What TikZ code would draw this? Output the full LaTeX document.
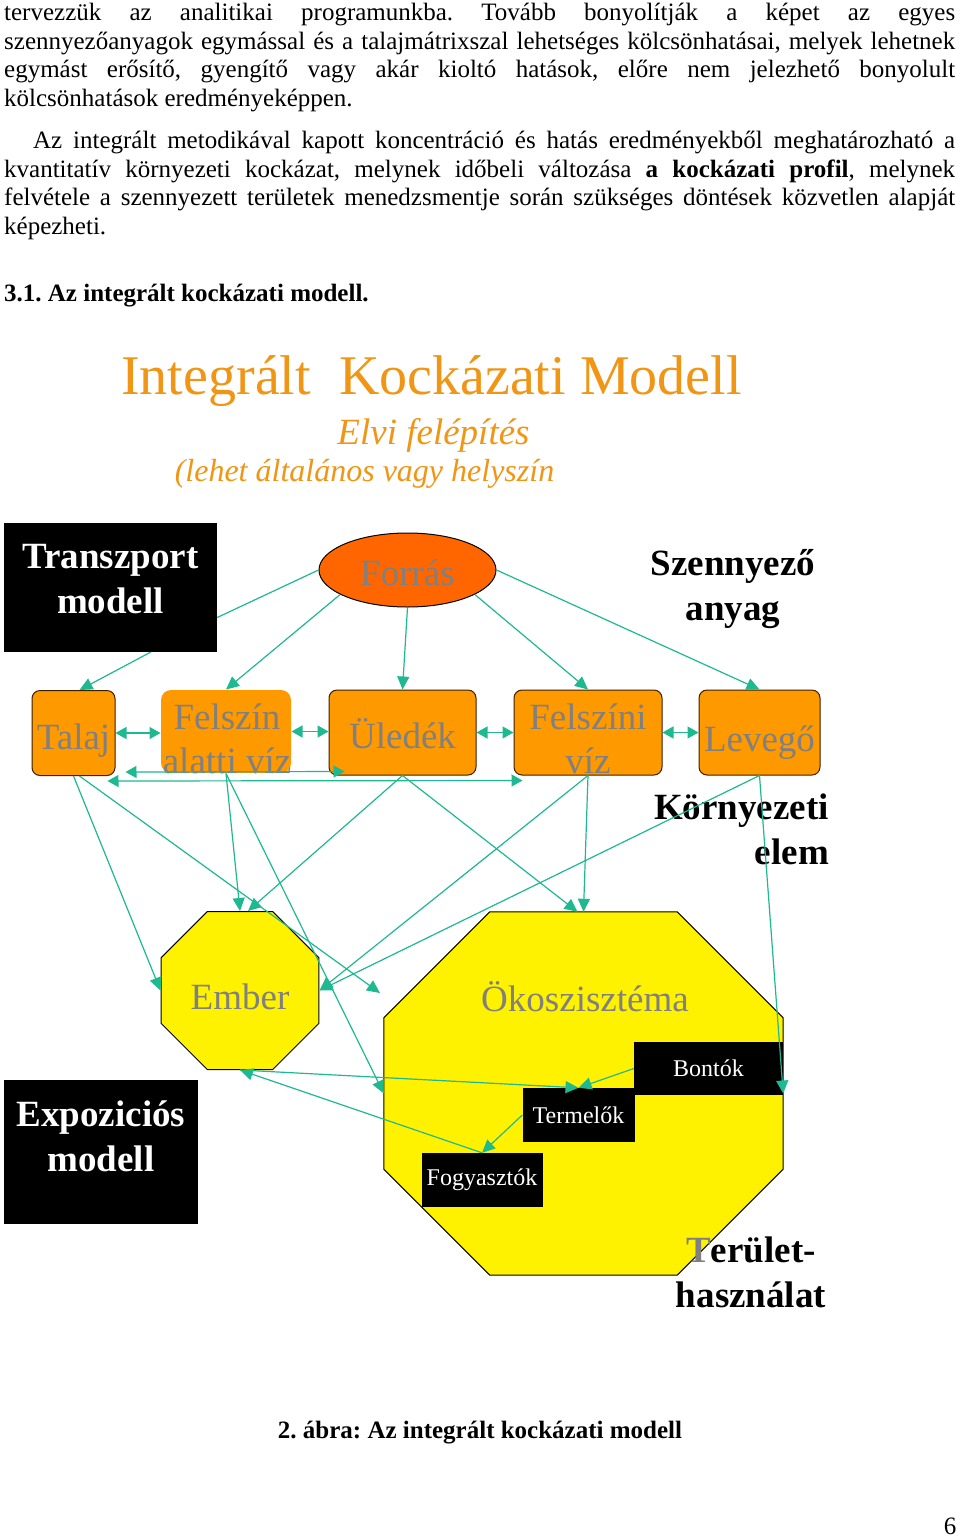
\documentclass[tikz,border=0pt]{standalone}
\usepackage{fontspec}
\setmainfont{Liberation Serif}
\usetikzlibrary{arrows.meta,shapes.geometric}
\frenchspacing
\definecolor{cimnarancs}{RGB}{240,150,20}
\definecolor{doboznarancs}{RGB}{255,153,0}
\definecolor{forrasnarancs}{RGB}{255,102,0}
\definecolor{nyilzold}{RGB}{30,185,145}
\definecolor{szurke}{RGB}{128,128,128}
\definecolor{keret}{RGB}{60,30,0}
\tikzset{
  nyil/.style={draw=nyilzold, line width=1.2pt, -{Triangle[length=13pt,width=12pt]}},
  ketnyil/.style={draw=nyilzold, line width=1.2pt, {Triangle[length=11pt,width=12pt]}-{Triangle[length=11pt,width=12pt]}},
  vonal/.style={draw=nyilzold, line width=1.2pt},
  elemdoboz/.style={rectangle, rounded corners=8pt, fill=doboznarancs, draw=keret, line width=1pt, text=szurke, font=\fontsize{37}{44}\selectfont, inner sep=0pt, text height=32pt, text depth=0pt, align=center},
  feketedoboz/.style={rectangle, fill=black, inner sep=0pt},
  feherszoveg/.style={text=white, font=\fontsize{37}{45}\selectfont\bfseries, align=center},
  kisfekete/.style={rectangle, fill=black, text=white, inner sep=0pt, font=\fontsize{24}{28}\selectfont},
  felirat/.style={font=\fontsize{37}{45}\selectfont\bfseries, align=center, inner sep=0pt},
  szurkefelirat/.style={text=szurke, font=\fontsize{37}{44}\selectfont, align=center},
  szoveg/.style={anchor=north west, inner sep=0pt, align=left, font=\fontsize{25}{28.7}\selectfont},
}
\begin{document}
\begin{tikzpicture}[x=1pt,y=-1pt]
\useasboundingbox (0,0) rectangle (960,1537);
\fill[white] (0,0) rectangle (960,1537);
% szoveg a kep felett
\node[szoveg] (bekezdes1) at (4,3) {\makebox[951pt][s]{tervezzük az analitikai programunkba. Tovább bonyolítják a képet az egyes}\\
\makebox[951pt][s]{szennyezőanyagok egymással és a talajmátrixszal lehetséges kölcsönhatásai, melyek lehetnek}\\
\makebox[951pt][s]{egymást erősítő, gyengítő vagy akár kioltó hatások, előre nem jelezhető bonyolult}\\
kölcsönhatások eredményeképpen.};
\node[szoveg] (bekezdes2) at (4,131) {\hspace*{29pt}\makebox[922pt][s]{Az integrált metodikával kapott koncentráció és hatás eredményekből meghatározható a}\\
\makebox[951pt][s]{kvantitatív környezeti kockázat, melynek időbeli változása \textbf{a kockázati profil}, melynek}\\
\makebox[951pt][s]{felvétele a szennyezett területek menedzsmentje során szükséges döntések közvetlen alapját}\\
képezheti.};
\node[szoveg, anchor=base west, font=\fontsize{25}{28.7}\selectfont\bfseries] (fejezet) at (4,301) {3.1. Az integrált kockázati modell.};
% cim
\node[text=cimnarancs, font=\fontsize{56}{60}\selectfont] (cim) at (431.5,381) {Integrált\ \ Kockázati Modell};
\node[text=cimnarancs, font=\fontsize{37}{40}\selectfont\itshape] (alcim) at (433.5,435) {Elvi felépítés};
\node[text=cimnarancs, font=\fontsize{32}{36}\selectfont\itshape] (alcim2) at (364.5,474) {(lehet általános vagy helyszín};
% felso sor
\node[feketedoboz, minimum width=213pt, minimum height=129pt] (transzport) at (110.5,587.5) {};
\node[feherszoveg] (transzportszoveg) at (110.5,579) {Transzport\\modell};
\node[ellipse, minimum width=177pt, minimum height=74pt, inner sep=0pt, fill=forrasnarancs, draw=black, line width=1pt, text=szurke, font=\fontsize{37}{44}\selectfont, text height=31pt, text depth=0pt] (forras) at (407.5,570) {Forrás};
\node[felirat] (szennyezo) at (733,589.5) {Szennyező\\anyag};
% kornyezeti elemek
\node[elemdoboz, minimum width=83pt, minimum height=85pt] (talaj) at (73.5,733) {Talaj};
\node[elemdoboz, draw=none, rounded corners=10pt, minimum width=130pt, minimum height=83pt] (felszinalatti) at (226,731.5) {};
\node[szurkefelirat] (felszinalattiszoveg) at (227,739) {Felszín\\alatti víz};
\node[elemdoboz, minimum width=147pt, minimum height=85pt] (uledek) at (402.5,732.5) {Üledék};
\node[elemdoboz, minimum width=148pt, minimum height=85pt] (felszini) at (588,732.5) {};
\node[szurkefelirat] (felsziniszoveg) at (588,739) {Felszíni\\víz};
\node[elemdoboz, minimum width=121pt, minimum height=85pt, text height=38pt] (levego) at (759.5,732.5) {Levegő};
\node[felirat, align=right, anchor=east] (kornyezeti) at (829,829) {Környezeti\\elem};
% receptorok
\node[regular polygon, regular polygon sides=8, minimum size=171pt, inner sep=0pt, fill=yellow, draw=black, line width=1pt, text=szurke, font=\fontsize{37}{44}\selectfont, text height=37pt, text depth=0pt] (ember) at (240,990.5) {Ember};
\node[minimum width=399pt, minimum height=363pt, inner sep=0pt] (okosz) at (583.5,1093.5) {};
\filldraw[fill=yellow, draw=black, line width=1pt] ([xshift=106pt]okosz.north west) -- ([xshift=-106pt]okosz.north east) -- ([yshift=-106pt]okosz.north east) -- ([yshift=106pt]okosz.south east) -- ([xshift=-106pt]okosz.south east) -- ([xshift=106pt]okosz.south west) -- ([yshift=106pt]okosz.south west) -- ([yshift=-106pt]okosz.north west) -- cycle;
\node[szurkefelirat] (okoszfelirat) at (585,997) {Ökoszisztéma};
\node[kisfekete, minimum width=149pt, minimum height=53pt] (bontok) at (708.5,1068.5) {Bontók};
\node[kisfekete, minimum width=112pt, minimum height=54pt] (termelok) at (578.5,1115) {Termelők};
\node[kisfekete, minimum width=121pt, minimum height=54pt] (fogyasztok) at (482,1180) {Fogyasztók};
\node[feketedoboz, minimum width=194pt, minimum height=144pt] (expozicios) at (101,1152) {};
\node[feherszoveg] (expoziciosszoveg) at (101,1136) {Expoziciós\\modell};
\node[felirat] (terulet) at (751,1272) {\textcolor{szurke}{T}erület-\\használat};
\coordinate (szabadveg) at (380,993);
% nyilak
\draw[nyil] ([xshift=40pt]transzport.south) -- ([xshift=6pt]talaj.north);
\draw[vonal] ([yshift=-30pt]transzport.east) -- (forras.west);
\draw[nyil] (forras.200) -- (felszinalatti.north);
\draw[nyil] (forras.south) -- (uledek.north);
\draw[nyil] (forras.-20) -- (felszini.north);
\draw[nyil] (forras.east) -- (levego.north);
\foreach \a/\b in {talaj/felszinalatti, felszinalatti/uledek, uledek/felszini, felszini/levego}
  \draw[ketnyil] (\a.east) -- (\a.east -| \b.west);
\draw[ketnyil] ([xshift=10pt,yshift=4pt]talaj.south east) -- ([xshift=16pt,yshift=4pt]uledek.south west);
\draw[ketnyil] ([xshift=-8pt,yshift=-5pt]talaj.south east) -- ([xshift=9pt,yshift=-5pt]felszini.south west);
\draw[nyil] (talaj.south) -- (ember.west);
\draw[nyil] ([xshift=6pt]talaj.south) -- (szabadveg);
\draw[nyil] (felszinalatti.south) -- (ember.north);
\draw[nyil] (felszinalatti.south) -- (okosz.west);
\draw[nyil] (uledek.south) -- ([xshift=8pt]ember.north);
\draw[nyil] (uledek.south) -- ([xshift=-6pt]okosz.north);
\draw[nyil] (felszini.south) -- (ember.east);
\draw[nyil] (felszini.south) -- (okosz.north);
\draw[nyil] (levego.south) -- (ember.east);
\draw[nyil] (levego.south) -- (okosz.east);
\draw[nyil] (bontok.west) -- (termelok.north);
\draw[nyil] (termelok.west) -- (fogyasztok.north);
\draw[nyil] (ember.south) -- (termelok.north);
\draw[nyil] (fogyasztok.north) -- (ember.south);
% abrafelirat
\node[font=\fontsize{25}{28.7}\selectfont\bfseries] (abra) at (480,1433) {2. ábra: Az integrált kockázati modell};
\node[font=\fontsize{25}{28.7}\selectfont] (oldalszam) at (950,1526) {6};
\end{tikzpicture}
\end{document}
